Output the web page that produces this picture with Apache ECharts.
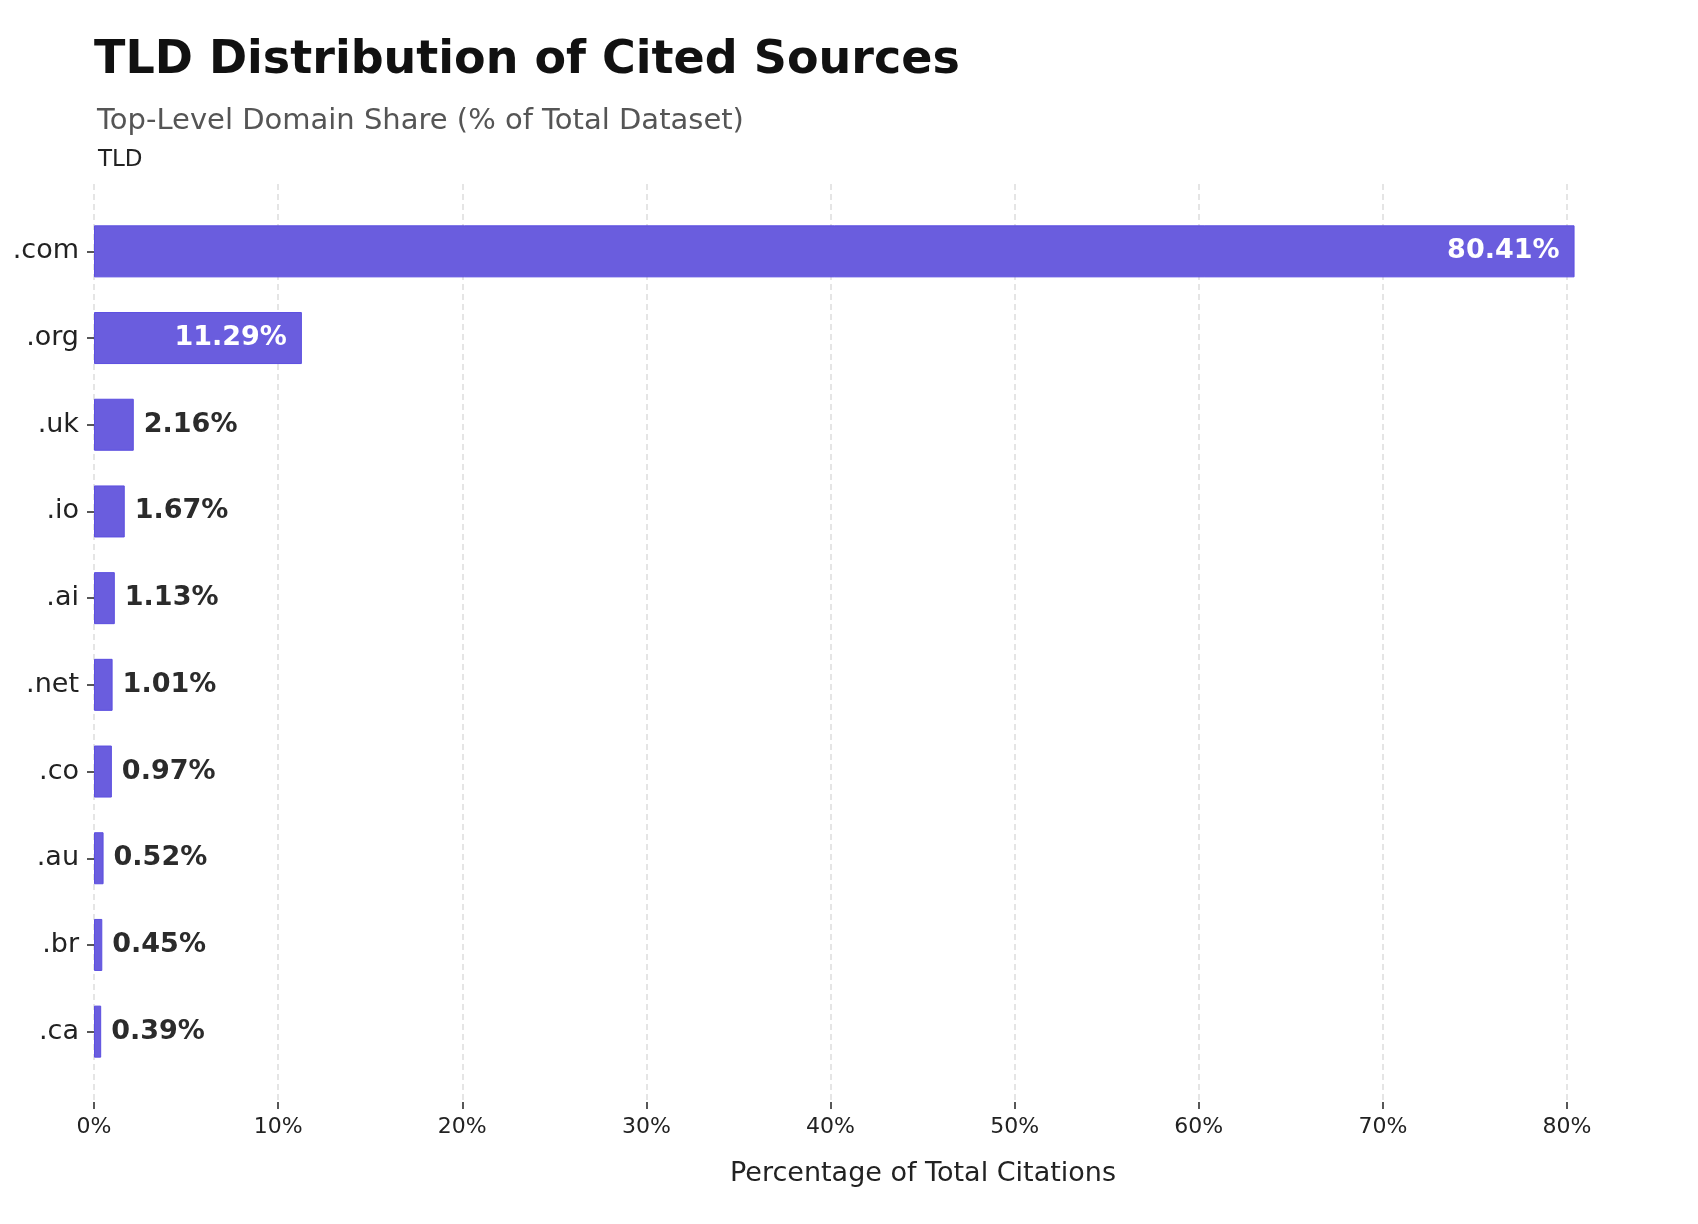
<!DOCTYPE html>
<html>
<head>
<meta charset="utf-8">
<script src="https://cdn.jsdelivr.net/npm/echarts@6/dist/echarts.min.js"></script>
<style>
html,body{margin:0;padding:0;background:#fff;}
#chart{width:1698px;height:1224px;}
</style>
</head>
<body>
<div id="chart"></div>
<script>
const categories = ['.com', '.org', '.uk', '.io', '.ai', '.net', '.co', '.au', '.br', '.ca'];
const shares = [80.41, 11.29, 2.16, 1.67, 1.13, 1.01, 0.97, 0.52, 0.45, 0.39];
const xTicks = [0, 10, 20, 30, 40, 50, 60, 70, 80];

const FONT = 'DejaVu Sans';
const chart = echarts.init(document.getElementById('chart'));

const barData = shares.map(v => {
  const inside = v > 5;
  return {
    value: v,
    label: inside
      ? { position: 'insideRight', distance: 15, color: '#ffffff' }
      : { position: 'right', distance: 10, color: '#2b2b2b' }
  };
});

chart.setOption({
  backgroundColor: '#ffffff',
  animation: false,
  title: [
    { text: 'TLD Distribution of Cited Sources', left: 89, top: 33,
      textStyle: { fontFamily: FONT, fontSize: 46, fontWeight: 'bold', color: '#111111' } },
    { text: 'Top-Level Domain Share (% of Total Dataset)', left: 92, top: 102,
      textStyle: { fontFamily: FONT, fontSize: 29, fontWeight: 'normal', color: '#555555' } },
    { text: 'TLD', left: 93, top: 144,
      textStyle: { fontFamily: FONT, fontSize: 23, fontWeight: 'normal', color: '#222222' } },
    { text: 'Percentage of Total Citations', left: 918, top: 1155, textAlign: 'center',
      textStyle: { fontFamily: FONT, fontSize: 27, fontWeight: 'normal', color: '#222222' } }
  ],
  grid: [
    { left: 94, top: 184, width: 1473, height: 918 },
    { left: 94, top: 208, width: 1473, height: 867 }
  ],
  xAxis: [
    {
      gridIndex: 0, type: 'value', min: 0, max: 80, interval: 10,
      axisLine: { show: false },
      axisTick: { show: true, length: 7, lineStyle: { color: '#222222', width: 1.5 } },
      axisLabel: { fontFamily: FONT, fontSize: 22, color: '#222222', margin: 14,
        formatter: v => xTicks.includes(v) ? v + '%' : '' },
      splitLine: { show: true, lineStyle: { color: '#dddddd', width: 1.5, type: [6, 4] } }
    },
    {
      gridIndex: 1, type: 'value', min: 0, max: 80, interval: 10,
      show: false
    }
  ],
  yAxis: [
    { gridIndex: 0, type: 'value', show: false, min: 0, max: 1 },
    {
      gridIndex: 1, type: 'category', data: categories, inverse: true,
      axisLine: { show: false },
      axisTick: { show: true, alignWithLabel: true, length: 7, lineStyle: { color: '#222222', width: 1.5 } },
      axisLabel: { fontFamily: FONT, fontSize: 27, color: '#222222', margin: 15, padding: [4, 0, 0, 0] },
      splitLine: { show: false }
    }
  ],
  series: [{
    type: 'bar',
    xAxisIndex: 1,
    yAxisIndex: 1,
    data: barData,
    barWidth: '60%',
    clip: false,
    itemStyle: { color: '#6A5DDE', borderColor: '#5B4EE0', borderWidth: 1 },
    label: {
      show: true,
      fontFamily: FONT, fontSize: 27, fontWeight: 'bold',
      formatter: p => p.value.toFixed(2) + '%'
    }
  }]
});
</script>
</body>
</html>
